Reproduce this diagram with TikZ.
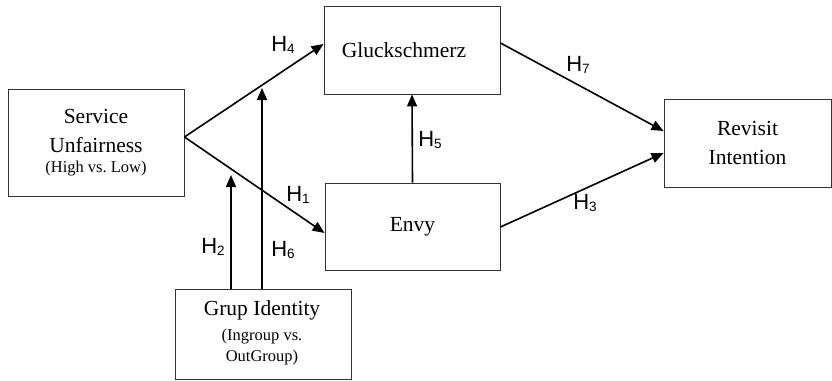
\documentclass[tikz,border=0pt]{standalone}
\usepackage{fontspec}
\setmainfont{Liberation Serif}
\newfontfamily\labfont{Liberation Sans}
\usetikzlibrary{arrows.meta}
\newcommand\hlab[1]{H\raisebox{-1.5pt}{\fontsize{13.5}{13.5}\selectfont #1}}
\newcommand\smalltxt{\fontsize{16.5}{21}\selectfont}
\begin{document}
\begin{tikzpicture}[x=1pt,y=-1pt,
  box/.style={draw=black!80, line width=0.9pt, inner sep=0pt, align=center,
    font=\fontsize{21.5}{29}\selectfont},
  arr/.style={line width=1.6pt, -{Triangle[length=12pt,width=10pt]}},
  hl/.style={font=\labfont\fontsize{22}{22}\selectfont, inner sep=0pt}]
\useasboundingbox (0,0) rectangle (832,380);
% boxes
\node[box, minimum width=176pt, minimum height=107pt] (s) at (96,142.5) {};
\node[align=center, inner sep=0pt, font=\fontsize{21.5}{29}\selectfont] (st) at (96,131) {Service\\Unfairness};
\node[inner sep=0pt, font=\smalltxt] (sp) at (96,169) {(High vs.\ Low)};
\node[box, minimum width=176pt, minimum height=88pt] (g) at (412,50) {};
\node[inner sep=0pt, font=\fontsize{21.5}{29}\selectfont] (gt) at (404,50) {Gluckschmerz};
\node[box, minimum width=175pt, minimum height=87pt] (e) at (412.5,226.5) {Envy};
\node[box, minimum width=167pt, minimum height=88pt] (r) at (747.5,143) {Revisit\\Intention};
\node[box, minimum width=176pt, minimum height=90pt] (gi) at (263,334) {};
\node[inner sep=0pt, font=\fontsize{21.5}{29}\selectfont] (git) at (262,310) {Grup Identity};
\node[align=center, inner sep=0pt, font=\smalltxt] (gip) at (262,347.5) {(Ingroup vs.\\OutGroup)};
% free ends
\coordinate (h2end) at (231,175);
\coordinate (h6end) at (262,88);
% arrows
\draw[arr] ([yshift=5.5pt]s.east) -- ([yshift=6pt]g.west);
\draw[arr] ([yshift=5.5pt]s.east) -- ([yshift=-6.5pt]e.west);
\draw[arr] ([xshift=-32pt]gi.north) -- (h2end);
\draw[arr] ([xshift=-1pt]gi.north) -- (h6end);
\draw[arr] (e.north) -- (g.south);
\draw[arr] ([yshift=7pt]g.east) -- ([yshift=12pt]r.west);
\draw[arr] ([yshift=-0.5pt]e.east) -- ([yshift=-10pt]r.west);
% labels
\node[hl] (l4) at (283,45) {\hlab{4}};
\node[hl] (l7) at (578,65) {\hlab{7}};
\node[hl] (l5) at (430,140) {\hlab{5}};
\node[hl] (l1) at (298,195) {\hlab{1}};
\node[hl] (l3) at (585,203) {\hlab{3}};
\node[hl] (l2) at (213,247) {\hlab{2}};
\node[hl] (l6) at (283,250) {\hlab{6}};
\end{tikzpicture}
\end{document}
